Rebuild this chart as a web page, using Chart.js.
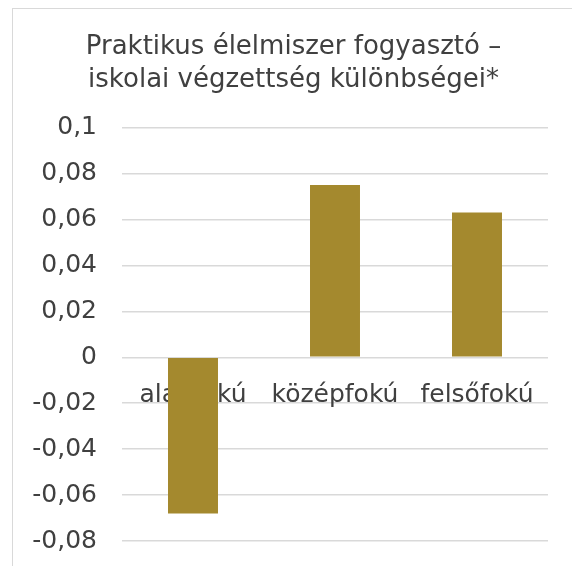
<!DOCTYPE html>
<html>
<head>
<meta charset="utf-8">
<script src="https://cdn.jsdelivr.net/npm/chart.js@4"></script>
<style>
  html, body { margin: 0; padding: 0; background: #fff; overflow: hidden; }
  #frame {
    position: absolute; left: 12px; top: 8px;
    width: 700px; height: 700px;
    border-left: 1px solid #d9d9d9; border-top: 1px solid #d9d9d9;
  }
  #wrap { position: absolute; left: 0; top: 0; width: 561px; height: 572px; }
</style>
</head>
<body>
<div id="frame"><div id="wrap"><canvas id="chart"></canvas></div></div>
<script>
// adatok
const categories = ["alapfokú", "középfokú", "felsőfokú"];
const values = [-0.068, 0.075, 0.063];
const yTicks = [-0.08, -0.06, -0.04, -0.02, 0, 0.02, 0.04, 0.06, 0.08, 0.1];
const titleLines = ["Praktikus élelmiszer fogyasztó –", "iskolai végzettség különbségei*"];

const FONT = "'DejaVu Sans', sans-serif";
const TEXT = "#404040";

// 0.02 -> "0,02"
const fmt = v => String(Math.round(v * 100) / 100).replace(".", ",");

new Chart(document.getElementById("chart"), {
  type: "bar",
  data: {
    labels: categories,
    datasets: [{
      data: values,
      backgroundColor: "#a4892e",
      barPercentage: 0.352,
      categoryPercentage: 1
    }]
  },
  options: {
    responsive: true,
    maintainAspectRatio: false,
    animation: false,
    layout: { padding: { left: 0, right: 0, top: 0, bottom: 10 } },
    plugins: {
      legend: { display: false },
      tooltip: { enabled: false },
      title: {
        display: true,
        text: titleLines,
        color: TEXT,
        font: { family: FONT, size: 26, weight: "normal", lineHeight: 1.3 },
        padding: { top: 21, bottom: 30 }
      }
    },
    scales: {
      x: {
        position: { y: 0 },
        afterFit: s => { s.height = 0; },
        grid: { display: false },
        border: { display: false },
        ticks: { color: TEXT, font: { family: FONT, size: 25 }, padding: 15, maxRotation: 0, autoSkip: false }
      },
      y: {
        min: -0.08,
        max: 0.1,
        afterBuildTicks: s => { s.ticks = yTicks.map(v => ({ value: v })); },
        afterFit: s => { s.width = 109; },
        grid: { color: "#d9d9d9", lineWidth: 1.5, drawTicks: false },
        border: { display: false },
        ticks: { color: TEXT, font: { family: FONT, size: 25 }, padding: 25, callback: v => fmt(v) }
      },
      // üres jobb oldali tengely, csak helyet foglal
      yRight: {
        position: "right",
        afterFit: s => { s.width = 26; },
        grid: { display: false },
        border: { display: false },
        ticks: { display: false }
      }
    }
  }
});
</script>
</body>
</html>
